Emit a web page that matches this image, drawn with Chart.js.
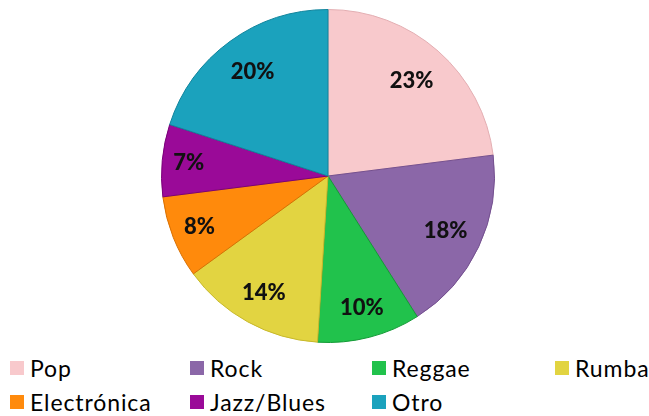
<!DOCTYPE html>
<html>
<head>
<meta charset="utf-8">
<script src="https://cdn.jsdelivr.net/npm/chart.js@4/dist/chart.umd.min.js"></script>
<style>
  html, body { margin: 0; padding: 0; background: #fff; }
  #wrap { position: relative; width: 649px; height: 416px; overflow: hidden; }
  #cv { position: absolute; left: 0; top: 0; }
  .lg { position: absolute; display: flex; align-items: center; font-family: Lato, "Open Sans", sans-serif; font-size: 23px; letter-spacing: 0.9px; color: #000; white-space: nowrap; line-height: 1; }
  .lg span.sq { display: inline-block; width: 14px; height: 14px; margin-right: 6px; }
</style>
</head>
<body>
<div id="wrap">
  <canvas id="cv" width="649" height="350"></canvas>
</div>
<script>
const categories = ["Pop", "Rock", "Reggae", "Rumba", "Electrónica", "Jazz/Blues", "Otro"];
const percentages = [23, 18, 10, 14, 8, 7, 20];
const sliceColors = ["#F8C9CC", "#8B67A8", "#21C24C", "#E2D441", "#FF8A0C", "#9A0A98", "#1BA2BD"];
const edgeColors  = ["#E3AEB2", "#74508F", "#149A36", "#C7B82B", "#D86F00", "#7A0078", "#11849C"];

// radial factor where each percentage label sits (style only)
const labelRadius = [0.76, 0.78, 0.82, 0.80, 0.83, 0.84, 0.77];

const labelPlugin = {
  id: 'pctLabels',
  afterDatasetsDraw(chart) {
    const ctx = chart.ctx;
    const meta = chart.getDatasetMeta(0);
    ctx.save();
    ctx.font = '900 22px Lato, "Open Sans", sans-serif';
    ctx.fillStyle = '#111';
    ctx.textAlign = 'center';
    ctx.textBaseline = 'middle';
    meta.data.forEach((arc, i) => {
      const p = arc.getProps(['x', 'y', 'startAngle', 'endAngle', 'outerRadius'], true);
      const mid = (p.startAngle + p.endAngle) / 2;
      const r = p.outerRadius * labelRadius[i];
      ctx.fillText(percentages[i] + '%', p.x + Math.cos(mid) * r, p.y + Math.sin(mid) * r);
    });
    ctx.restore();
  }
};

const chart = new Chart(document.getElementById('cv'), {
  type: 'pie',
  data: {
    labels: categories,
    datasets: [{
      data: percentages,
      backgroundColor: sliceColors,
      borderColor: edgeColors,
      borderWidth: 1
    }]
  },
  options: {
    responsive: false,
    animation: false,
    layout: { padding: { top: 9, bottom: 7, left: 7, right: 0 } },
    plugins: { legend: { display: false }, tooltip: { enabled: false } }
  },
  plugins: [labelPlugin]
});

// Legend built from the chart's own generated labels
const colLeft = [10, 190, 372, 555];
const rowMid = [368, 402];
const items = chart.options.plugins.legend.labels.generateLabels(chart);
const wrap = document.getElementById('wrap');
items.forEach((it, i) => {
  const d = document.createElement('div');
  d.className = 'lg';
  d.style.left = colLeft[i % 4] + 'px';
  d.style.top = (rowMid[Math.floor(i / 4)] - 12) + 'px';
  d.style.height = '24px';
  const sq = document.createElement('span');
  sq.className = 'sq';
  sq.style.background = it.fillStyle;
  d.appendChild(sq);
  d.appendChild(document.createTextNode(it.text));
  wrap.appendChild(d);
});
</script>
</body>
</html>
